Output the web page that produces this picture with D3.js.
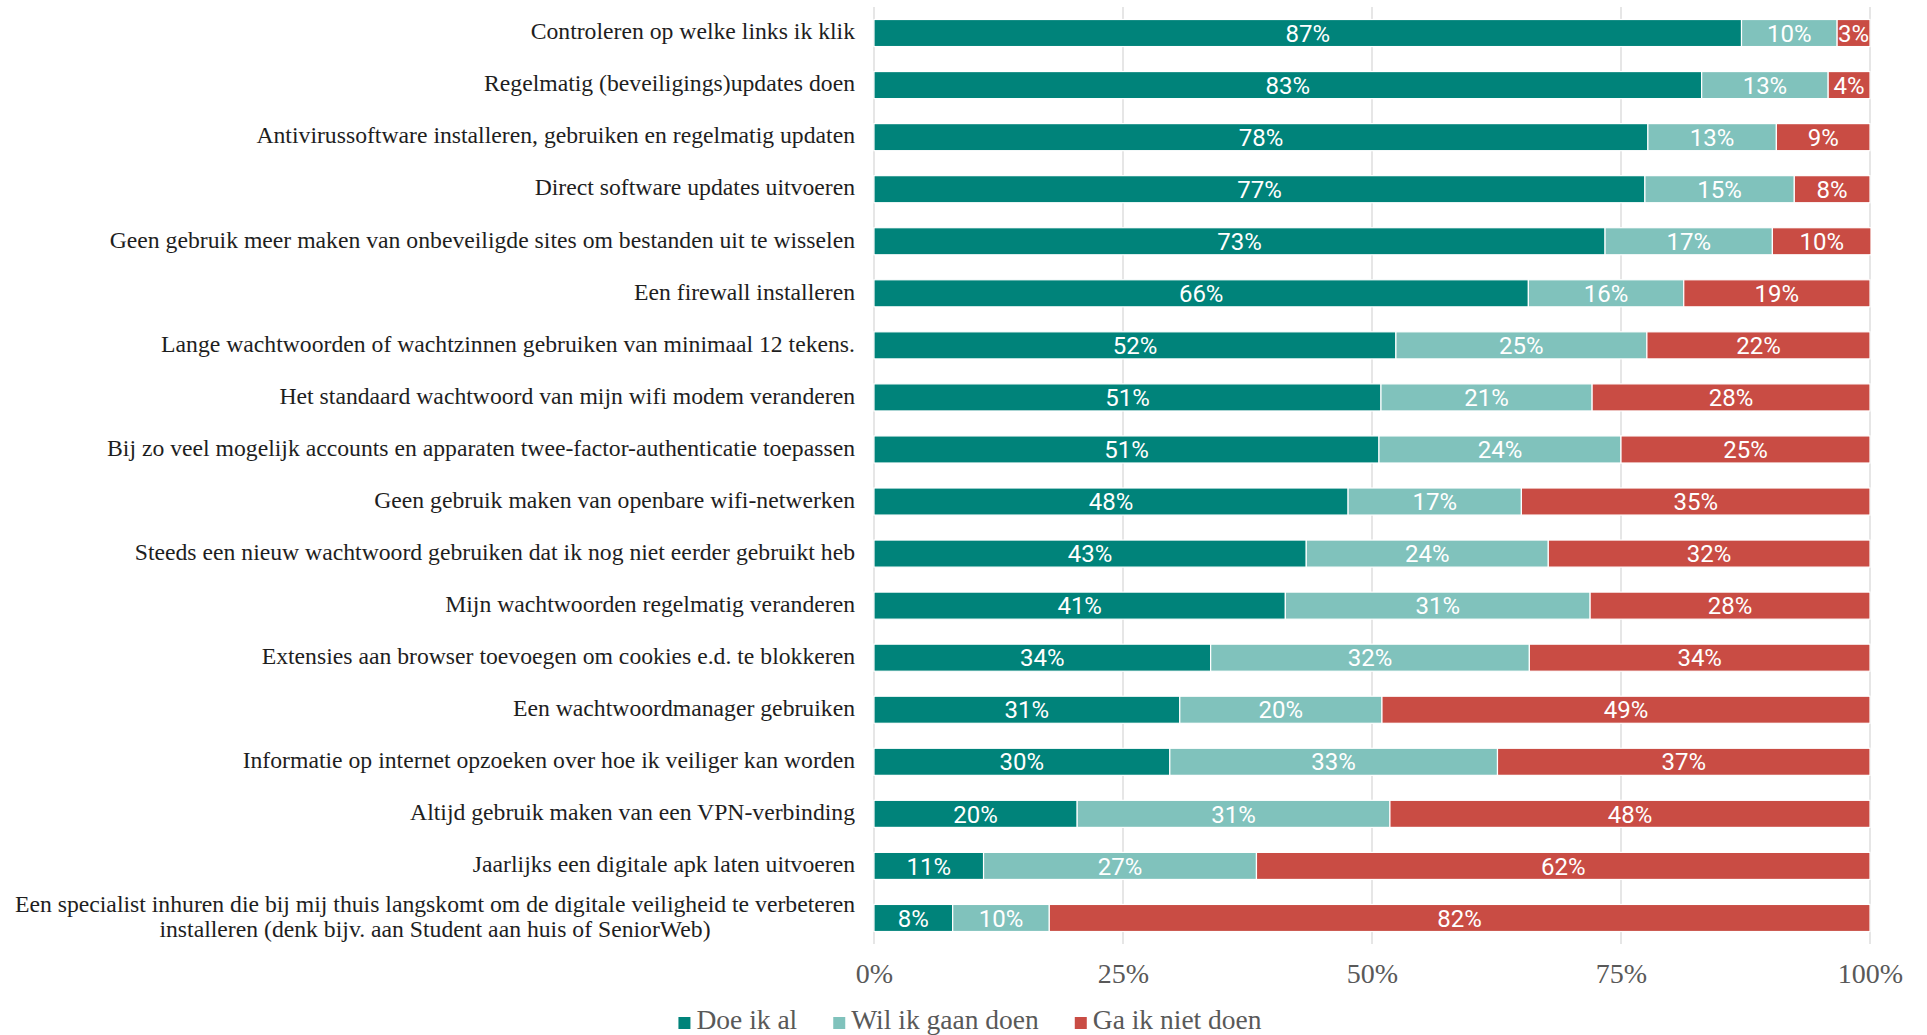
<!DOCTYPE html>
<html>
<head>
<meta charset="utf-8">
<script src="https://cdn.jsdelivr.net/npm/d3@7"></script>
<style>
  body { margin: 0; background: #fff; }
  svg { display: block; }
</style>
</head>
<body>
<script>
// Categories (top to bottom)
var categories = [
  "Controleren op welke links ik klik",
  "Regelmatig (beveiligings)updates doen",
  "Antivirussoftware installeren, gebruiken en regelmatig updaten",
  "Direct software updates uitvoeren",
  "Geen gebruik meer maken van onbeveiligde sites om bestanden uit te wisselen",
  "Een firewall installeren",
  "Lange wachtwoorden of wachtzinnen gebruiken van minimaal 12 tekens.",
  "Het standaard wachtwoord van mijn wifi modem veranderen",
  "Bij zo veel mogelijk accounts en apparaten twee-factor-authenticatie toepassen",
  "Geen gebruik maken van openbare wifi-netwerken",
  "Steeds een nieuw wachtwoord gebruiken dat ik nog niet eerder gebruikt heb",
  "Mijn wachtwoorden regelmatig veranderen",
  "Extensies aan browser toevoegen om cookies e.d. te blokkeren",
  "Een wachtwoordmanager gebruiken",
  "Informatie op internet opzoeken over hoe ik veiliger kan worden",
  "Altijd gebruik maken van een VPN-verbinding",
  "Jaarlijks een digitale apk laten uitvoeren",
  "Een specialist inhuren die bij mij thuis langskomt om de digitale veiligheid te verbeteren|installeren (denk bijv. aan Student aan huis of SeniorWeb)"
];

// Series values (percent)
var doeIkAl = [87.1, 83.1, 77.7, 77.4, 73.4, 65.7, 52.4, 50.9, 50.7, 47.6, 43.4, 41.3, 33.8, 30.7, 29.7, 20.4, 11.0, 7.9];
var wilIkGaanDoen = [9.6, 12.7, 12.9, 15.0, 16.8, 15.6, 25.2, 21.2, 24.3, 17.4, 24.3, 30.6, 32.0, 20.3, 32.9, 31.4, 27.4, 9.7];
var gaIkNietDoen = [3.3, 4.2, 9.4, 7.6, 9.9, 18.7, 22.4, 27.9, 25.0, 35.0, 32.3, 28.1, 34.2, 49.0, 37.4, 48.2, 61.6, 82.4];

var seriesNames = ["Doe ik al", "Wil ik gaan doen", "Ga ik niet doen"];
var seriesColors = ["#00837a", "#80c2bc", "#c94c44"];
var tickValues = [0, 25, 50, 75, 100];

var svgWidth = 1927;
var svgHeight = 1035;
var margin = { top: 7, right: 57, bottom: 91, left: 874 };
var width = svgWidth - margin.left - margin.right;
var height = svgHeight - margin.top - margin.bottom;

var serifFont = "'Liberation Serif', 'DejaVu Serif', serif";
var narrowFont = "'Liberation Sans Narrow', 'Roboto', sans-serif";

var svg = d3.select("body")
  .append("svg")
  .attr("width", svgWidth)
  .attr("height", svgHeight);

var chartGroup = svg.append("g")
  .attr("transform", `translate(${margin.left}, ${margin.top})`);

// Build rows for stacking
var rows = categories.map(function (c, i) {
  return { cat: c, s0: doeIkAl[i], s1: wilIkGaanDoen[i], s2: gaIkNietDoen[i] };
});

var stack = d3.stack().keys(["s0", "s1", "s2"]);
var stacked = stack(rows);

var xScale = d3.scaleLinear().domain([0, 100]).range([0, width]);
var yScale = d3.scaleBand()
  .domain(categories)
  .range([0, height])
  .paddingInner(0.48)
  .paddingOuter(0.24);

// Gridlines
chartGroup.append("g")
  .selectAll("line")
  .data(tickValues)
  .enter()
  .append("line")
  .attr("x1", d => xScale(d))
  .attr("x2", d => xScale(d))
  .attr("y1", 0)
  .attr("y2", height)
  .attr("stroke", "#d9d9d9")
  .attr("stroke-width", 1.3);

// Bars
var layers = chartGroup.selectAll(".layer")
  .data(stacked)
  .enter()
  .append("g")
  .attr("class", "layer")
  .attr("fill", (d, i) => seriesColors[i]);

layers.selectAll("rect")
  .data(d => d)
  .enter()
  .append("rect")
  .attr("x", d => xScale(d[0]))
  .attr("y", d => yScale(d.data.cat))
  .attr("width", d => xScale(d[1]) - xScale(d[0]))
  .attr("height", yScale.bandwidth())
  .attr("stroke", "#fff")
  .attr("stroke-width", 1.2);

// Value labels
var fmt = d3.format(".0f");
layers.selectAll("text")
  .data(d => d)
  .enter()
  .append("text")
  .attr("x", d => (xScale(d[0]) + xScale(d[1])) / 2)
  .attr("y", d => yScale(d.data.cat) + yScale.bandwidth() / 2)
  .attr("dy", "0.36em")
  .attr("text-anchor", "middle")
  .attr("fill", "#fff")
  .style("font-family", narrowFont)
  .style("font-size", "24px")
  .text(d => fmt(d[1] - d[0]) + "%");

// Category labels
var labelX = -19;
var labelSize = "23.7px";
var catGroup = chartGroup.append("g");
categories.forEach(function (c) {
  var lines = c.split("|");
  var cy = yScale(c) + yScale.bandwidth() / 2 - 2;
  if (lines.length === 1) {
    catGroup.append("text")
      .attr("x", labelX)
      .attr("y", cy)
      .attr("dy", "0.35em")
      .attr("text-anchor", "end")
      .attr("fill", "#1e1e1e")
      .style("font-family", serifFont)
      .style("font-size", labelSize)
      .text(c);
  } else {
    var lh = 25;
    var first = catGroup.append("text")
      .attr("x", labelX)
      .attr("y", cy - lh / 2)
      .attr("dy", "0.35em")
      .attr("text-anchor", "end")
      .attr("fill", "#1e1e1e")
      .style("font-family", serifFont)
      .style("font-size", labelSize)
      .text(lines[0]);
    var w = first.node().getComputedTextLength();
    catGroup.append("text")
      .attr("x", labelX - w / 2)
      .attr("y", cy + lh / 2)
      .attr("dy", "0.35em")
      .attr("text-anchor", "middle")
      .attr("fill", "#1e1e1e")
      .style("font-family", serifFont)
      .style("font-size", labelSize)
      .text(lines[1]);
  }
});

// X axis
var bottomAxis = d3.axisBottom(xScale)
  .tickValues(tickValues)
  .tickSize(0)
  .tickPadding(19)
  .tickFormat(d => d + "%");

var axisG = chartGroup.append("g")
  .attr("transform", `translate(0, ${height})`)
  .call(bottomAxis);
axisG.select(".domain").remove();
axisG.selectAll("text")
  .attr("fill", "#595959")
  .style("font-family", serifFont)
  .style("font-size", "28px");

// Legend
var legend = svg.append("g");
var lx = 0;
seriesNames.forEach(function (name, i) {
  var item = legend.append("g").attr("transform", `translate(${lx}, 0)`);
  item.append("rect")
    .attr("x", 0)
    .attr("y", -12)
    .attr("width", 12)
    .attr("height", 12)
    .attr("fill", seriesColors[i]);
  var t = item.append("text")
    .attr("x", 18)
    .attr("y", 0)
    .attr("fill", "#595959")
    .style("font-family", serifFont)
    .style("font-size", "27.5px")
    .text(name);
  lx += 18 + t.node().getComputedTextLength() + 36;
});
var legendW = lx - 36;
legend.attr("transform", `translate(${970 - legendW / 2}, 1029)`);
</script>
</body>
</html>
